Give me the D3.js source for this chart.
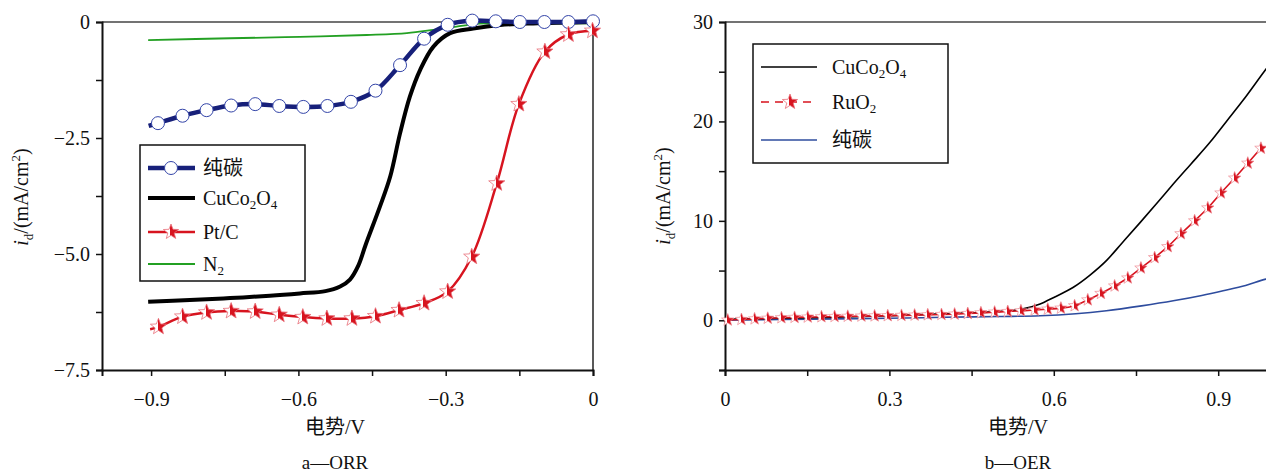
<!DOCTYPE html>
<html>
<head>
<meta charset="utf-8">
<script src="https://cdn.jsdelivr.net/npm/d3@7"></script>
<style>
  body { margin: 0; background: #fff; }
  svg text { font-family: "Liberation Serif", "Noto Sans CJK SC", serif; fill: #111; }
</style>
</head>
<body>
<svg id="vis" width="1266" height="472"></svg>
<script>
// ---- data ----
// a - ORR, potential (V) vs i_d (mA/cm2)
var orrCarbon = [[-0.905,-2.24],[-0.886,-2.18],[-0.836,-2.02],[-0.787,-1.90],[-0.737,-1.80],[-0.688,-1.77],
  [-0.639,-1.81],[-0.590,-1.83],[-0.541,-1.81],[-0.493,-1.72],[-0.443,-1.48],[-0.393,-0.93],[-0.344,-0.36],
  [-0.296,-0.06],[-0.246,0.03],[-0.198,0.015],[-0.149,0],[-0.099,0],[-0.050,0],[0.0,0.015]];
var orrCuCo = [[-0.906,-6.03],[-0.821,-5.99],[-0.739,-5.95],[-0.658,-5.90],[-0.597,-5.85],[-0.545,-5.80],
  [-0.515,-5.70],[-0.495,-5.55],[-0.478,-5.25],[-0.463,-4.80],[-0.434,-3.98],[-0.413,-3.33],[-0.393,-2.40],
  [-0.373,-1.61],[-0.352,-1.03],[-0.325,-0.53],[-0.291,-0.24],[-0.244,-0.14],[-0.189,-0.065],[-0.122,-0.03],[-0.001,0]];
var orrPtC = [[-0.902,-6.62],[-0.885,-6.57],[-0.836,-6.35],[-0.787,-6.26],[-0.737,-6.23],[-0.688,-6.24],
  [-0.639,-6.31],[-0.591,-6.36],[-0.542,-6.39],[-0.491,-6.39],[-0.443,-6.34],[-0.395,-6.21],[-0.344,-6.06],
  [-0.296,-5.81],[-0.247,-5.06],[-0.196,-3.48],[-0.151,-1.77],[-0.098,-0.64],[-0.050,-0.27],[-0.001,-0.19]];
var orrN2 = [[-0.906,-0.39],[-0.739,-0.35],[-0.597,-0.32],[-0.461,-0.28],[-0.379,-0.24],[-0.325,-0.17],
  [-0.278,-0.10],[-0.237,-0.04],[-0.189,-0.03],[0.0,-0.03]];

// b - OER
var oerCuCo = [[0,0.1],[0.1,0.2],[0.2,0.3],[0.3,0.45],[0.4,0.65],[0.45,0.75],[0.5,0.9],[0.54,1.1],
  [0.575,1.63],[0.6,2.3],[0.635,3.3],[0.665,4.5],[0.696,6.0],[0.725,7.8],[0.757,9.8],[0.79,11.9],
  [0.818,13.7],[0.85,15.7],[0.885,17.9],[0.915,20.0],[0.945,22.1],[0.985,25.1],[1.0,26.2]];
var oerRuO2 = [[0.005,0.02],[0.030,0.08],[0.054,0.14],[0.078,0.20],[0.103,0.25],[0.127,0.29],[0.151,0.32],
  [0.176,0.35],[0.200,0.38],[0.224,0.40],[0.249,0.42],[0.273,0.44],[0.297,0.46],[0.322,0.49],[0.346,0.52],
  [0.370,0.55],[0.395,0.58],[0.419,0.62],[0.443,0.68],[0.467,0.75],[0.492,0.82],[0.516,0.88],[0.540,0.95],
  [0.565,1.03],[0.589,1.12],[0.613,1.22],[0.638,1.46],[0.662,2.05],[0.686,2.70],[0.711,3.45],[0.735,4.25],
  [0.759,5.25],[0.784,6.30],[0.808,7.40],[0.832,8.70],[0.857,10.0],[0.881,11.3],[0.905,12.8],[0.930,14.3],
  [0.954,15.8],[0.978,17.3]];
var oerCarbon = [[0,0.0],[0.1,0.08],[0.2,0.14],[0.3,0.2],[0.4,0.3],[0.5,0.38],[0.575,0.45],[0.64,0.65],
  [0.696,0.96],[0.76,1.45],[0.818,1.96],[0.87,2.5],[0.909,2.97],[0.95,3.5],[0.987,4.14],[1.0,4.3]];

var orrXTicks = [-0.9,-0.6,-0.3,0], orrXMinor = [-0.75,-0.45,-0.15];
var orrYTicks = [0,-2.5,-5.0,-7.5], orrYMinor = [-1.25,-3.75,-6.25];
var oerXTicks = [0,0.3,0.6,0.9], oerXMinor = [0.15,0.45,0.75];
var oerYTicks = [0,10,20,30], oerYMinor = [-5,5,15,25];

var svg = d3.select('#vis');

// half hollow / half filled star, like the original markers
var grad = svg.append('defs').append('linearGradient').attr('id','halfStar')
  .attr('x1','0').attr('x2','1').attr('y1','0').attr('y2','0');
grad.append('stop').attr('offset','0').attr('stop-color','#fff');
grad.append('stop').attr('offset','0.45').attr('stop-color','#fff');
grad.append('stop').attr('offset','0.45').attr('stop-color','#d7141f');
grad.append('stop').attr('offset','1').attr('stop-color','#d7141f');

function starPath(R){
  var p = d3.path(), r = R*0.42;
  for (var k = 0; k < 10; k++){
    var a = -Math.PI/2 + k*Math.PI/5, rr = (k%2==0) ? R : r;
    if (k==0) p.moveTo(rr*Math.cos(a), rr*Math.sin(a)); else p.lineTo(rr*Math.cos(a), rr*Math.sin(a));
  }
  p.closePath();
  return p.toString();
}

function fmt(d){ return d === 0 ? '0' : d3.format('.1f')(d).replace('-','\u2212'); }

// draws frame, ticks and labels for one panel
function panel(x, y, xt, xm, yt, ym, yfmt){
  var g = svg.append('g');
  var x0 = x.range()[0], x1 = x.range()[1], y0 = y.range()[0], y1 = y.range()[1];
  g.append('line').attr('x1',x0).attr('x2',x1).attr('y1',y1).attr('y2',y1).attr('stroke','#444').attr('stroke-width',1.5);
  g.append('line').attr('x1',x1).attr('x2',x1).attr('y1',y1).attr('y2',y0).attr('stroke','#222').attr('stroke-width',1.5);
  var ax = d3.axisBottom(x).tickValues(xt.concat(xm)).tickSize(6).tickPadding(16)
    .tickFormat(function(d){ return xt.indexOf(d) >= 0 ? fmt(d) : ''; });
  var ay = d3.axisLeft(y).tickValues(yt.concat(ym)).tickSize(6).tickPadding(6)
    .tickFormat(function(d){ return yt.indexOf(d) >= 0 ? yfmt(d) : ''; });
  var gx = g.append('g').attr('transform','translate(0,'+y0+')').call(ax);
  var gy = g.append('g').attr('transform','translate('+x0+',0)').call(ay);
  [gx, gy].forEach(function(a){
    a.select('.domain').attr('stroke','#111').attr('stroke-width',2);
    a.selectAll('.tick line').attr('stroke','#111').attr('stroke-width',1.5);
    a.selectAll('text').attr('font-size',20).attr('font-family','"Liberation Serif", serif').attr('fill','#111');
  });
  return g;
}

function yLabel(cx, cy){
  var t = svg.append('text').attr('transform','translate('+cx+','+cy+') rotate(-90)')
    .attr('text-anchor','middle').attr('font-size',20);
  t.append('tspan').attr('font-style','italic').text('i');
  t.append('tspan').attr('font-size',13).attr('dy',5).text('d');
  t.append('tspan').attr('dy',-5).text('/(mA/cm');
  t.append('tspan').attr('font-size',13).attr('dy',-8).text('2');
  t.append('tspan').attr('dy',8).text(')');
}

function legText(g, x, y, parts){
  var t = g.append('text').attr('x',x).attr('y',y+7).attr('font-size',20);
  var sub = false;
  parts.forEach(function(p){
    var s = t.append('tspan').text(p[0]);
    if (p[1]) { s.attr('font-size',13).attr('dy',4); sub = true; }
    else if (sub) { s.attr('dy',-4); sub = false; }
  });
}

// ---------- a: ORR ----------
var xA = d3.scaleLinear().domain([-1.0, 0]).range([102, 593]);
var yA = d3.scaleLinear().domain([-7.5, 0]).range([370, 22]);
panel(xA, yA, orrXTicks, orrXMinor, orrYTicks, orrYMinor, fmt);

var lineA = d3.line().x(function(d){return xA(d[0]);}).y(function(d){return yA(d[1]);}).curve(d3.curveCatmullRom);

svg.append('path').datum(orrN2).attr('d',lineA).attr('fill','none').attr('stroke','#23a023').attr('stroke-width',1.8);
svg.append('path').datum(orrCuCo).attr('d',lineA).attr('fill','none').attr('stroke','#000').attr('stroke-width',4);
svg.append('path').datum(orrCarbon).attr('d',lineA).attr('fill','none').attr('stroke','#17207a').attr('stroke-width',4.5);
svg.append('g').selectAll('circle').data(orrCarbon.slice(1)).enter().append('circle')
  .attr('cx',function(d){return xA(d[0]);}).attr('cy',function(d){return yA(d[1]);})
  .attr('r',6.5).attr('fill','#fff').attr('stroke','#3344a8').attr('stroke-width',1);
svg.append('path').datum(orrPtC).attr('d',lineA).attr('fill','none').attr('stroke','#d7141f').attr('stroke-width',2.5);
svg.append('g').selectAll('path').data(orrPtC.slice(1)).enter().append('path')
  .attr('transform',function(d){return 'translate('+xA(d[0])+','+yA(d[1])+')';})
  .attr('d',starPath(8.5)).attr('fill','url(#halfStar)').attr('stroke','#e8707a').attr('stroke-width',0.8);

yLabel(28, 197);
svg.append('text').attr('x',335).attr('y',434).attr('text-anchor','middle').attr('font-size',20).text('电势/V');
svg.append('text').attr('x',335).attr('y',469).attr('text-anchor','middle').attr('font-size',19).text('a—ORR');

// legend a
var legA = svg.append('g');
legA.append('rect').attr('x',140).attr('y',145).attr('width',165).attr('height',136)
  .attr('fill','#fff').attr('stroke','#111').attr('stroke-width',1.5);
var legAy = [168, 198, 232, 264];
legA.append('line').attr('x1',148).attr('x2',195).attr('y1',legAy[0]).attr('y2',legAy[0]).attr('stroke','#17207a').attr('stroke-width',4.5);
legA.append('circle').attr('cx',171).attr('cy',legAy[0]).attr('r',6.5).attr('fill','#fff').attr('stroke','#3344a8');
legA.append('line').attr('x1',148).attr('x2',195).attr('y1',legAy[1]).attr('y2',legAy[1]).attr('stroke','#000').attr('stroke-width',4);
legA.append('line').attr('x1',148).attr('x2',195).attr('y1',legAy[2]).attr('y2',legAy[2]).attr('stroke','#d7141f').attr('stroke-width',2.5);
legA.append('path').attr('transform','translate(171,'+legAy[2]+')').attr('d',starPath(8)).attr('fill','url(#halfStar)').attr('stroke','#e8707a').attr('stroke-width',0.8);
legA.append('line').attr('x1',148).attr('x2',195).attr('y1',legAy[3]).attr('y2',legAy[3]).attr('stroke','#23a023').attr('stroke-width',1.8);
legText(legA, 203, legAy[0], [['纯碳',0]]);
legText(legA, 203, legAy[1], [['CuCo',0],['2',1],['O',0],['4',1]]);
legText(legA, 203, legAy[2], [['Pt/C',0]]);
legText(legA, 203, legAy[3], [['N',0],['2',1]]);

// ---------- b: OER ----------
var xB = d3.scaleLinear().domain([0, 1.0]).range([725, 1273]);
var yB = d3.scaleLinear().domain([-5, 30]).range([370, 22]);
panel(xB, yB, oerXTicks, oerXMinor, oerYTicks, oerYMinor, function(d){return String(d);});

var lineB = d3.line().x(function(d){return xB(d[0]);}).y(function(d){return yB(d[1]);}).curve(d3.curveMonotoneX);
svg.append('path').datum(oerCarbon).attr('d',lineB).attr('fill','none').attr('stroke','#2e4c9e').attr('stroke-width',1.6);
svg.append('path').datum(oerCuCo).attr('d',lineB).attr('fill','none').attr('stroke','#000').attr('stroke-width',1.6);
svg.append('path').datum(oerRuO2).attr('d',lineB).attr('fill','none').attr('stroke','#d7141f').attr('stroke-width',1.6);
svg.append('g').selectAll('path').data(oerRuO2).enter().append('path')
  .attr('transform',function(d){return 'translate('+xB(d[0])+','+yB(d[1])+')';})
  .attr('d',starPath(6.5)).attr('fill','url(#halfStar)').attr('stroke','#ee8890').attr('stroke-width',0.7);

yLabel(670, 196);
svg.append('text').attr('x',1018).attr('y',434).attr('text-anchor','middle').attr('font-size',20).text('电势/V');
svg.append('text').attr('x',1018).attr('y',469).attr('text-anchor','middle').attr('font-size',19).text('b—OER');

// legend b
var legB = svg.append('g');
legB.append('rect').attr('x',753).attr('y',44).attr('width',195).attr('height',119)
  .attr('fill','#fff').attr('stroke','#111').attr('stroke-width',1.5);
var legBy = [67, 102, 140];
legB.append('line').attr('x1',761).attr('x2',817).attr('y1',legBy[0]).attr('y2',legBy[0]).attr('stroke','#000').attr('stroke-width',1.6);
legB.append('line').attr('x1',761).attr('x2',817).attr('y1',legBy[1]).attr('y2',legBy[1]).attr('stroke','#d7141f').attr('stroke-width',1.6).attr('stroke-dasharray','8,6');
legB.append('path').attr('transform','translate(790,'+legBy[1]+')').attr('d',starPath(8)).attr('fill','url(#halfStar)').attr('stroke','#e8707a').attr('stroke-width',0.8);
legB.append('line').attr('x1',761).attr('x2',817).attr('y1',legBy[2]).attr('y2',legBy[2]).attr('stroke','#2e4c9e').attr('stroke-width',1.6);
legText(legB, 832, legBy[0], [['CuCo',0],['2',1],['O',0],['4',1]]);
legText(legB, 832, legBy[1], [['RuO',0],['2',1]]);
legText(legB, 832, legBy[2], [['纯碳',0]]);
</script>
</body>
</html>
